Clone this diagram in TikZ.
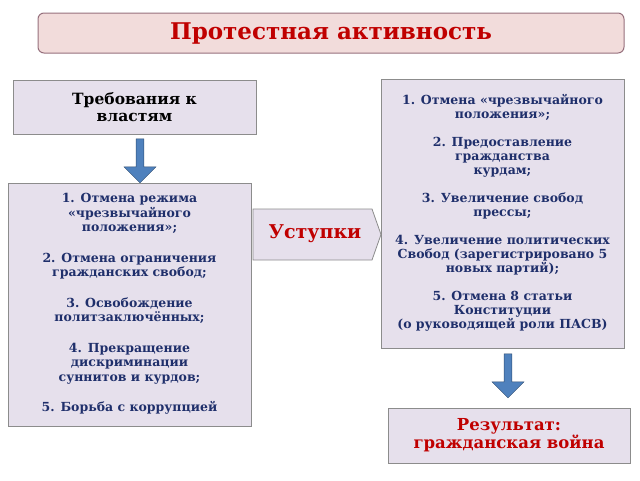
\documentclass[tikz,border=0pt]{standalone}
\usepackage{fontspec}
\setmainfont{DejaVu Serif}
\usetikzlibrary{shapes.arrows,shapes.symbols,positioning}
\definecolor{boxfill}{HTML}{E6E0EC}
\definecolor{titlefill}{HTML}{F2DCDB}
\definecolor{boxline}{HTML}{8C8C8C}
\definecolor{txtblue}{HTML}{1F2F6B}
\definecolor{txtred}{HTML}{C00000}
\definecolor{arrowblue}{HTML}{4F81BD}
\tikzset{
  infobox/.style={draw=boxline,fill=boxfill,line width=0.8pt,inner sep=3pt},
  listtext/.style={text=txtblue,font=\bfseries\fontsize{12.5}{14.5}\selectfont,align=center},
  downarrow/.style={single arrow,shape border rotate=270,draw=arrowblue!60!black,
    fill=arrowblue,minimum width=32pt,single arrow head extend=7pt,
    minimum height=44pt,inner sep=2pt}
}
\begin{document}
\begin{tikzpicture}[x=1pt,y=-1pt]
  \useasboundingbox (0,0) rectangle (640,480);

  % title
  \draw[rounded corners=6pt,draw=boxline!80!purple,fill=titlefill,line width=1pt]
    (38,13) rectangle (624,53);
  \node[text=txtred,font=\bfseries\fontsize{23}{26}\selectfont] (title) at (331,34)
    {Протестная активность};

  % demands
  \draw[infobox] (13,80) rectangle (256,134);
  \node[font=\bfseries\fontsize{15.5}{17}\selectfont,align=center] (demand) at (134.5,107)
    {Требования к\\ властям};

  \node[downarrow] (arrowL) at (140,159) {};

  \draw[infobox] (8,183) rectangle (251,426);
  \node[listtext] (listL) at (129.5,304)
    {1. Отмена режима\\«чрезвычайного\\положения»;\\[16pt]
     2. Отмена ограничения\\гражданских свобод;\\[16pt]
     3. Освобождение\\политзаключённых;\\[16pt]
     4. Прекращение\\дискриминации\\суннитов и курдов;\\[16pt]
     5. Борьба с коррупцией};

  % concessions
  \draw[draw=boxline,fill=boxfill,line width=0.8pt]
    (253,209) -- (372,209) -- (381,234.5) -- (372,260) -- (253,260) -- cycle;
  \node[text=txtred,font=\bfseries\fontsize{19}{21}\selectfont] (conc) at (315,234) {Уступки};

  \draw[infobox] (381,79) rectangle (624,348);
  \node[listtext,font=\bfseries\fontsize{12.5}{14}\selectfont] (listR) at (502.5,213)
    {1. Отмена «чрезвычайного\\положения»;\\[14pt]
     2. Предоставление\\гражданства\\курдам;\\[14pt]
     3. Увеличение свобод\\прессы;\\[14pt]
     4. Увеличение политических\\Свобод (зарегистрировано 5\\новых партий);\\[14pt]
     5. Отмена 8 статьи\\Конституции\\(о руководящей роли ПАСВ)};

  \node[downarrow] (arrowR) at (508,374) {};

  \draw[infobox] (388,408) rectangle (630,463);
  \node[text=txtred,font=\bfseries\fontsize{16.5}{18}\selectfont,align=center] (result) at (509,435.5)
    {Результат:\\ гражданская война};
\end{tikzpicture}
\end{document}
